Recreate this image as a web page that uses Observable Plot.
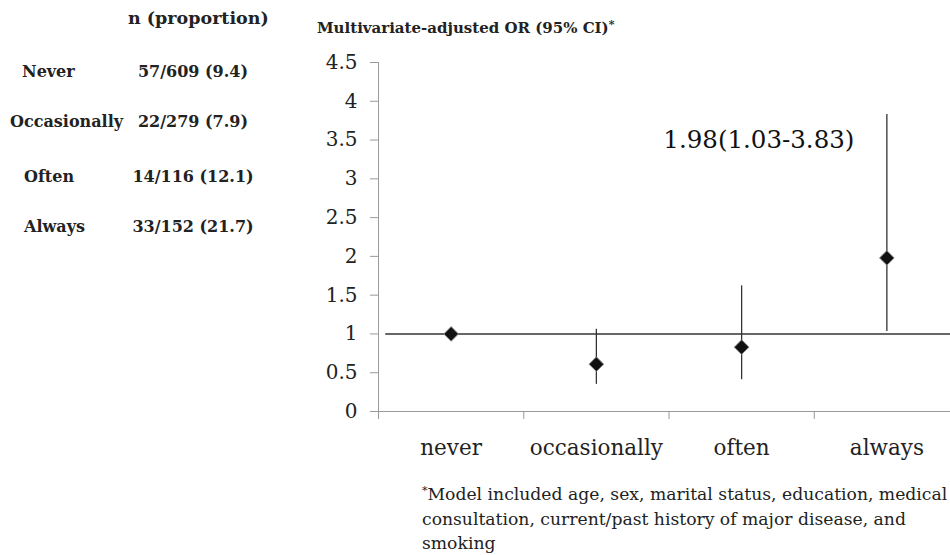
<!DOCTYPE html>
<html>
<head>
<meta charset="utf-8">
<script src="https://cdn.jsdelivr.net/npm/d3@7"></script>
<script src="https://cdn.jsdelivr.net/npm/@observablehq/plot@0.6"></script>
<style>
  html, body { margin: 0; padding: 0; background: #fff; overflow: hidden; }
  #wrap { position: relative; width: 950px; height: 555px; font-family: "DejaVu Serif", serif; color: #222; }
  #chart { position: absolute; left: 0; top: 0; }
  .abs { position: absolute; white-space: nowrap; }
  .b { font-weight: bold; }
  .tbl { font-size: 16px; line-height: 1; }
  #title { left: 317px; top: 18px; font-size: 15px; font-weight: bold; }
  #title sup { font-size: 11px; vertical-align: 5px; }
  #foot { left: 422px; top: 479px; font-size: 17.2px; line-height: 24.5px; }
  #foot sup { font-size: 11px; vertical-align: 6px; }
</style>
</head>
<body>
<div id="wrap">
  <div id="chart"></div>
</div>
<script>
// ---- data ----
const categories = ["never", "occasionally", "often", "always"];
const oddsRatio = [1.00, 0.61, 0.83, 1.98];
const ciLower = [null, 0.35, 0.41, 1.03];
const ciUpper = [null, 1.06, 1.62, 3.83];
const yTicks = [0, 0.5, 1, 1.5, 2, 2.5, 3, 3.5, 4, 4.5];
const tableHeader = "n (proportion)";
const tableNames = ["Never", "Occasionally", "Often", "Always"];
const tableCounts = ["57/609 (9.4)", "22/279 (7.9)", "14/116 (12.1)", "33/152 (21.7)"];
const chartTitle = "Multivariate-adjusted OR (95% CI)";
const footnoteLines = [
  "Model included age, sex, marital status, education, medical",
  "consultation, current/past history of major disease, and",
  "smoking"
];

// ---- layout-only style values ----
const nameLeft = [22, 10, 24, 24];
const rowCenter = [73, 123, 178, 228];
const countCenter = 193;

const rows = categories.map((c, i) => ({
  cat: c, pos: i + 0.5, or: oddsRatio[i], lo: ciLower[i], hi: ciUpper[i]
}));
const ciRows = rows.filter(d => d.lo != null);
const highlight = rows[rows.length - 1];
const annot = [{
  pos: highlight.pos, hi: highlight.hi,
  label: `${highlight.or.toFixed(2)}(${highlight.lo.toFixed(2)}-${highlight.hi.toFixed(2)})`
}];

const wrap = document.getElementById("wrap");

const chart = Plot.plot({
  width: 950,
  height: 470,
  marginLeft: 378,
  marginRight: -9,
  marginTop: 62,
  marginBottom: 59,
  style: { background: "transparent", fontFamily: "DejaVu Serif, serif", overflow: "visible" },
  x: { domain: [0, categories.length], axis: null },
  y: { domain: [0, 4.5], axis: null },
  marks: [
    Plot.axisY({ ticks: yTicks, label: null, tickSize: 8, tickPadding: 13, fontSize: 20, stroke: "#9a9a9a", fill: "#222", tickFormat: d => String(d) }),
    Plot.ruleX([0], { y1: 0, y2: 4.5, stroke: "#9a9a9a" }),
    Plot.ruleY([0], { x1: 0, x2: categories.length, stroke: "#9a9a9a" }),
    Plot.axisX({ ticks: d3.range(categories.length + 1), label: null, tickSize: 8, tickFormat: () => "", stroke: "#9a9a9a" }),
    Plot.axisX({ ticks: rows.map(d => d.pos), label: null, tickSize: 0, tickPadding: 28, fontSize: 21.5, fill: "#222",
      tickFormat: v => categories[Math.floor(v)] }),
    Plot.ruleY([1], { x1: 0.05, x2: categories.length, stroke: "#333", strokeWidth: 1.4 }),
    Plot.ruleX(ciRows, { x: "pos", y1: "lo", y2: "hi", stroke: "#333", strokeWidth: 1.3 }),
    Plot.dot(rows, { x: "pos", y: "or", symbol: "diamond2", r: 6.6, fill: "#111", stroke: "#8a8a8a", strokeWidth: 1 }),
    Plot.text(annot, { x: "pos", y: "hi", text: "label", dx: -128, dy: 26, fontSize: 24.5, fill: "#111", textAnchor: "middle" })
  ]
});
document.getElementById("chart").appendChild(chart);

// table
function addDiv(text, cls, style) {
  const d = document.createElement("div");
  d.className = "abs " + cls;
  d.textContent = text;
  Object.assign(d.style, style);
  wrap.appendChild(d);
  return d;
}
addDiv(tableHeader, "b", { left: "128px", top: "8px", fontSize: "17.5px" });
tableNames.forEach((n, i) => {
  addDiv(n, "b tbl", { left: nameLeft[i] + "px", top: (rowCenter[i] - 9) + "px" });
  addDiv(tableCounts[i], "b tbl", { left: countCenter + "px", top: (rowCenter[i] - 9) + "px", transform: "translateX(-50%)" });
});

// title
const t = document.createElement("div");
t.id = "title"; t.className = "abs";
t.appendChild(document.createTextNode(chartTitle));
const s = document.createElement("sup"); s.textContent = "*"; t.appendChild(s);
wrap.appendChild(t);

// footnote
const f = document.createElement("div");
f.id = "foot"; f.className = "abs";
const fs = document.createElement("sup"); fs.textContent = "*"; f.appendChild(fs);
footnoteLines.forEach((line, i) => {
  if (i > 0) f.appendChild(document.createElement("br"));
  f.appendChild(document.createTextNode(line));
});
wrap.appendChild(f);
</script>
</body>
</html>
